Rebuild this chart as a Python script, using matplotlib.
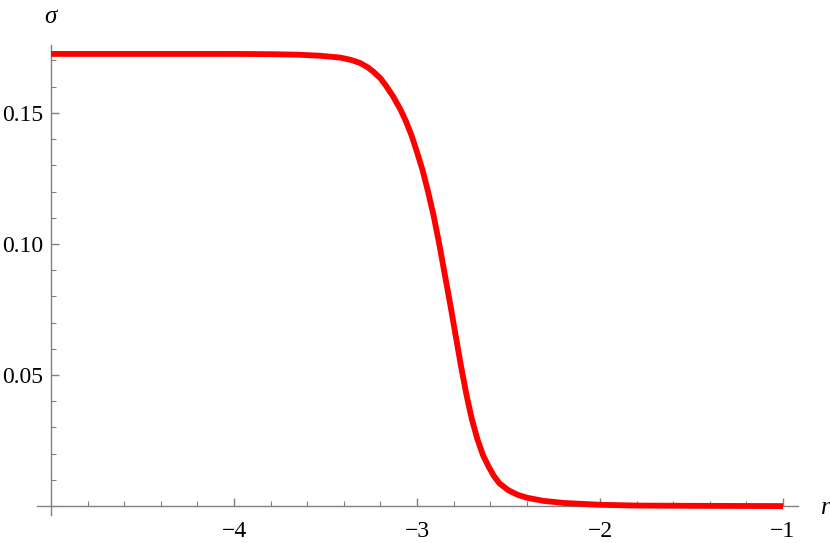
import numpy as np
from matplotlib import pyplot as plt
from matplotlib.ticker import MultipleLocator

# values
r = [-5.0, -4.5, -4.0, -3.8, -3.65, -3.53, -3.42, -3.36, -3.31, -3.27,
     -3.24, -3.20, -3.17, -3.13, -3.09, -3.06, -3.03, -3.00, -2.97, -2.94,
     -2.91, -2.88, -2.85, -2.82, -2.79, -2.76, -2.73, -2.70, -2.67, -2.64,
     -2.61, -2.58, -2.55, -2.50, -2.45, -2.40, -2.31, -2.20, -2.00, -1.80,
     -1.50, -1.00]
sigma = [0.1725, 0.1725, 0.1725, 0.1724, 0.1722, 0.1718, 0.1711, 0.1702, 0.1690, 0.1674,
         0.1658, 0.1632, 0.1604, 0.1562, 0.1512, 0.1467, 0.1414, 0.1350, 0.1282, 0.1200,
         0.1110, 0.1005, 0.0890, 0.0775, 0.0655, 0.0535, 0.0425, 0.0330, 0.0255, 0.0195,
         0.0152, 0.0115, 0.0087, 0.0060, 0.0043, 0.0032, 0.0020, 0.0012, 0.0005, 0.0002,
         0.0001, 0.0000]

xticks = [-4, -3, -2, -1]
xlabels = ["\u22124", "\u22123", "\u22122", "\u22121"]
yticks = [0.05, 0.10, 0.15]
ylabels = ["0.05", "0.10", "0.15"]

plt.rcParams["font.family"] = ["Liberation Serif", "DejaVu Serif"]

fig = plt.figure(figsize=(8.3, 5.43), dpi=100)
ax = fig.add_axes([37 / 830, 28 / 543, 761 / 830, 470 / 543])

ax.plot(r, sigma, color="red", lw=4.2, solid_capstyle="butt",
        solid_joinstyle="round", zorder=3)

ax.set_xlim(-5.077, -0.918)
ax.set_ylim(-0.0034, 0.1759)

for s in ["top", "right"]:
    ax.spines[s].set_visible(False)
ax.spines["left"].set_position(("data", -5))
ax.spines["bottom"].set_position(("data", 0))
for s in ["left", "bottom"]:
    ax.spines[s].set_color("#808080")
    ax.spines[s].set_linewidth(1.0)

ax.set_xticks(xticks)
ax.set_xticklabels(xlabels)
ax.set_yticks(yticks)
ax.set_yticklabels(ylabels)
ax.xaxis.set_minor_locator(MultipleLocator(0.2))
ax.yaxis.set_minor_locator(MultipleLocator(0.01))

ax.tick_params(which="both", direction="in", color="#808080", labelsize=17)
ax.tick_params(which="major", length=6, width=1)
ax.tick_params(which="minor", length=3.5, width=0.8)
ax.tick_params(axis="x", which="major", pad=11)
ax.tick_params(axis="y", which="major", pad=6)

ax.text(50 / 830, 1 - 17 / 543, "\u03c3", transform=fig.transFigure, fontsize=18,
        style="italic", ha="center", va="center")
ax.text(826 / 830, 1 - 508 / 543, "r", transform=fig.transFigure, fontsize=18,
        style="italic", ha="center", va="center")

plt.savefig("out.png", dpi=100)
